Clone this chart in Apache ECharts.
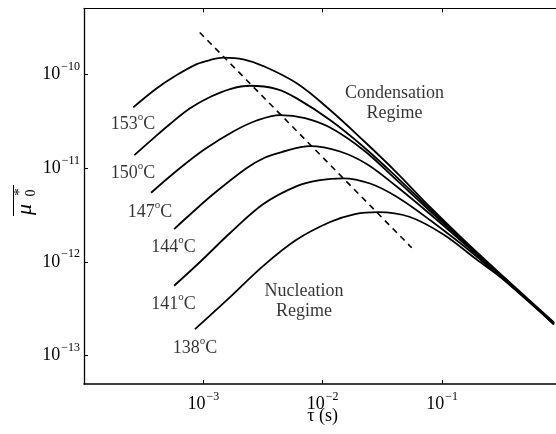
<!DOCTYPE html>
<html><head><meta charset="utf-8">
<script src="https://cdn.jsdelivr.net/npm/echarts@6/dist/echarts.min.js"></script>
<style>html,body{margin:0;padding:0;background:#fff}#c{width:556px;height:434px}</style>
</head><body><div id="c"></div>
<script>
const FONT = '"Liberation Serif","Times New Roman",Times,serif';

// Axis ticks (exponents of 10)
const xTickExponents = [-3, -2, -1];
const yTickExponents = [-13, -12, -11, -10];
const xRange = [-4, 0];
const yRange = [-13.301, -9.301];

// Curve labels (temperature, degC)
const temps = ['153', '150', '147', '144', '141', '138'];

// Curves: log10(tau [s]) and log10(mu0*)
const logTau153 = [-3.587, -3.390, -3.223, -3.055, -2.944, -2.832, -2.665, -2.497, -2.217, -1.938, -1.659, -1.380, -1.101, -0.715, -0.062];
const logMu153  = [-10.355, -10.152, -10.011, -9.894, -9.851, -9.826, -9.843, -9.915, -10.099, -10.383, -10.708, -11.049, -11.416, -11.890, -12.646];

const logTau150 = [-3.578, -3.419, -3.279, -3.111, -2.944, -2.776, -2.609, -2.385, -2.217, -1.938, -1.659, -1.380, -1.101, -0.715, -0.062];
const logMu150  = [-10.863, -10.685, -10.532, -10.365, -10.245, -10.160, -10.125, -10.160, -10.259, -10.490, -10.774, -11.097, -11.438, -11.901, -12.652];

const logTau147 = [-3.438, -3.195, -2.986, -2.749, -2.553, -2.357, -2.148, -1.938, -1.659, -1.380, -1.101, -0.715, -0.062];
const logMu147  = [-11.264, -11.001, -10.799, -10.612, -10.495, -10.437, -10.469, -10.570, -10.809, -11.129, -11.459, -11.906, -12.652];

const logTau144 = [-3.245, -3.111, -2.916, -2.636, -2.483, -2.357, -2.106, -1.855, -1.631, -1.380, -1.101, -0.715, -0.062];
const logMu144  = [-11.651, -11.496, -11.278, -11.001, -10.889, -10.836, -10.767, -10.825, -10.958, -11.198, -11.491, -11.917, -12.657];

const logTau141 = [-3.245, -3.028, -2.776, -2.497, -2.217, -2.022, -1.830, -1.603, -1.380, -1.101, -0.715, -0.062];
const logMu141  = [-12.255, -12.002, -11.693, -11.384, -11.193, -11.129, -11.111, -11.166, -11.307, -11.555, -11.938, -12.662];

const logTau138 = [-3.070, -2.776, -2.500, -2.223, -1.938, -1.729, -1.536, -1.274, -0.994, -0.715, -0.436, -0.062];
const logMu138  = [-12.716, -12.375, -12.045, -11.768, -11.576, -11.491, -11.470, -11.520, -11.704, -11.970, -12.236, -12.668];

// Dashed regime boundary
const dashLogTau = [-3.042, -1.254];
const dashLogMu  = [-9.542, -11.850];

// Annotation anchor points (log10 tau, log10 mu)
const tempLabelTau = [-3.589, -3.589, -3.447, -3.250, -3.250, -3.070];
const tempLabelMu  = [-10.538, -11.054, -11.470, -11.848, -12.449, -12.918];
const regimeText = ['Condensation\nRegime', 'Nucleation\nRegime'];
const regimeTau = [-1.398, -2.156];
const regimeMu  = [-10.309, -12.423];

const curves = [
  [logTau153, logMu153], [logTau150, logMu150], [logTau147, logMu147],
  [logTau144, logMu144], [logTau141, logMu141], [logTau138, logMu138]
];
const zip = (a, b) => a.map((v, i) => [v, b[i]]);

// minor tick positions on y (log10 of k*10^n)
const yMinor = [];
for (let n = -14; n <= -10; n++) {
  for (let k = 2; k <= 9; k++) {
    const v = n + Math.log10(k);
    if (v > yRange[0] + 0.005 && v < yRange[1] - 0.005) yMinor.push(v);
  }
}

const expRich = {
  b: { fontFamily: FONT, fontSize: 18, color: '#000' },
  s: { fontFamily: FONT, fontSize: 12, color: '#000', padding: [0, 0, 15, 1] }
};
const expFmt = v => '{b|10}{s|' + (v < 0 ? '\u2212' : '') + Math.abs(Math.round(v)) + '}';

const blackLine = { color: '#000', width: 1 };
const noBorder = { textBorderWidth: 0, textBorderColor: 'transparent', textShadowBlur: 0 };

const series = curves.map(c => ({
  type: 'line', data: zip(c[0], c[1]), smooth: 0.35, symbol: 'none', silent: true,
  lineStyle: { color: '#000', width: 1.8 }
}));
series.push({
  type: 'line', data: zip(dashLogTau, dashLogMu), symbol: 'none', silent: true,
  lineStyle: { color: '#000', width: 1.6, type: [6, 5], dashOffset: 9 }
});
series.push({
  type: 'scatter', symbolSize: 0, silent: true, itemStyle: { color: '#000' },
  data: temps.map((t, i) => ({ value: [tempLabelTau[i], tempLabelMu[i]], name: t })),
  label: Object.assign({
    show: true, position: [0, 0], align: 'center', verticalAlign: 'middle', color: '#000',
    formatter: p => '{b|' + p.name + '}{o|o}{b|C}',
    rich: {
      b: { fontFamily: FONT, fontSize: 18, color: '#000' },
      o: { fontFamily: FONT, fontSize: 11, color: '#000', padding: [0, 0, 14, 0] }
    }
  }, noBorder)
});
series.push({
  type: 'scatter', symbolSize: 0, silent: true, itemStyle: { color: '#000' },
  data: regimeText.map((t, i) => ({ value: [regimeTau[i], regimeMu[i]], name: t })),
  label: Object.assign({
    show: true, position: [0, 0], align: 'center', verticalAlign: 'middle', formatter: p => p.name,
    fontFamily: FONT, fontSize: 18, color: '#000', lineHeight: 20
  }, noBorder)
});

const chart = echarts.init(document.getElementById('c'), null, { renderer: 'canvas' });
chart.setOption({
  animation: false,
  backgroundColor: '#fff',
  grid: { left: 84, top: 8.4, right: -5.35, bottom: 50, containLabel: false, outerBoundsMode: 'none' },
  xAxis: [
    {
      type: 'value', min: xRange[0], max: xRange[1], position: 'bottom',
      axisLine: { show: true, onZero: false, lineStyle: { color: '#000', width: 1.5 } },
      axisTick: { show: true, inside: true, length: 4, customValues: xTickExponents, lineStyle: blackLine },
      axisLabel: { show: true, customValues: xTickExponents, formatter: expFmt, rich: expRich, margin: 7 },
      splitLine: { show: false },
      name: '\u03c4 (s)', nameLocation: 'middle', nameGap: 23, nameMoveOverlap: false,
      nameTextStyle: { fontFamily: FONT, fontSize: 18, color: '#000' }
    },
    {
      type: 'value', min: xRange[0], max: xRange[1], position: 'top',
      axisLine: { show: true, onZero: false, lineStyle: blackLine },
      axisTick: { show: true, inside: true, length: 4, customValues: xTickExponents, lineStyle: blackLine },
      axisLabel: { show: false }, splitLine: { show: false }
    }
  ],
  yAxis: [
    {
      type: 'value', min: yRange[0], max: yRange[1], position: 'left',
      axisLine: { show: true, onZero: false, lineStyle: { color: '#000', width: 1.3 } },
      axisTick: { show: true, inside: true, length: 4, customValues: yTickExponents, lineStyle: blackLine },
      axisLabel: { show: true, customValues: yTickExponents, formatter: expFmt, rich: expRich, margin: 4 },
      splitLine: { show: false }
    },
    {
      type: 'value', min: yRange[0], max: yRange[1], position: 'left', offset: 0,
      axisLine: { show: false },
      axisTick: { show: true, inside: true, length: 2.5, customValues: yMinor, lineStyle: blackLine },
      axisLabel: { show: false }, splitLine: { show: false }
    }
  ],
  series: series,
  graphic: [{
    type: 'group', x: 26, y: 200, rotation: Math.PI / 2, silent: true,
    children: [
      { type: 'text', x: -9.5, y: -1, style: { text: '\u03bc', fontFamily: FONT, fontSize: 22, fontStyle: 'italic', fill: '#000', align: 'center', verticalAlign: 'middle', textAlign: 'center', textVerticalAlign: 'middle' } },
      { type: 'text', x: 8, y: -6, style: { text: '*', fontFamily: FONT, fontSize: 15, fill: '#000', align: 'center', verticalAlign: 'middle', textAlign: 'center', textVerticalAlign: 'middle' } },
      { type: 'text', x: 7, y: 5.5, style: { text: '0', fontFamily: FONT, fontSize: 14, fill: '#000', align: 'center', verticalAlign: 'middle', textAlign: 'center', textVerticalAlign: 'middle' } },
      { type: 'line', shape: { x1: -16, y1: -12.5, x2: 15, y2: -12.5 }, style: { stroke: '#000', lineWidth: 1 } }
    ]
  }]
});
</script>
</body></html>
